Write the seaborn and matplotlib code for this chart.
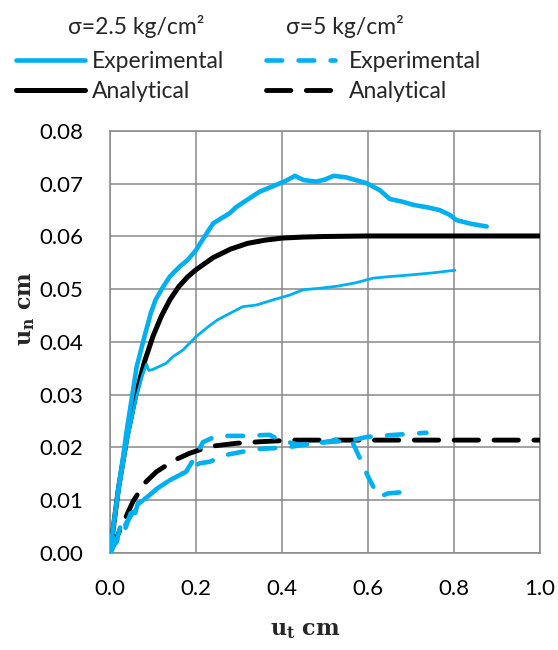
import matplotlib
matplotlib.use("Agg")
import matplotlib.pyplot as plt
import seaborn as sns
import pandas as pd

# sigma = 2.5 kg/cm2, experimental (upper test curve)
exp25a_x = [0, 0.01, 0.02, 0.03, 0.039, 0.05, 0.062, 0.069, 0.080, 0.095, 0.106, 0.12, 0.139,
            0.162, 0.18, 0.20, 0.22, 0.24, 0.26, 0.278, 0.294, 0.32, 0.348, 0.387, 0.41,
            0.43, 0.45, 0.48, 0.50, 0.52, 0.55, 0.597, 0.627, 0.651, 0.68, 0.705, 0.74,
            0.767, 0.79, 0.806, 0.84, 0.876]
exp25a_y = [0, 0.0065, 0.0125, 0.018, 0.0233, 0.029, 0.0353, 0.0375, 0.041, 0.0455, 0.048,
            0.050, 0.0524, 0.0543, 0.0555, 0.0574, 0.060, 0.0625, 0.0635, 0.0644, 0.0656,
            0.067, 0.0685, 0.0698, 0.0706, 0.0715, 0.0707, 0.0704, 0.0708, 0.0715, 0.0712,
            0.0701, 0.0688, 0.0671, 0.0666, 0.066, 0.0655, 0.065, 0.0641, 0.0631, 0.0624,
            0.0619]

# sigma = 2.5 kg/cm2, experimental (lower test curve)
exp25b_x = [0, 0.02, 0.04, 0.06, 0.075, 0.085, 0.09, 0.1, 0.131, 0.146, 0.17, 0.2, 0.23,
            0.25, 0.278, 0.309, 0.34, 0.38, 0.418, 0.449, 0.49, 0.53, 0.57, 0.612, 0.65,
            0.697, 0.75, 0.802]
exp25b_y = [0, 0.011, 0.021, 0.029, 0.0335, 0.0358, 0.0346, 0.0348, 0.036, 0.0372, 0.0385,
            0.041, 0.043, 0.0442, 0.0454, 0.0467, 0.047, 0.048, 0.0489, 0.0499, 0.0502,
            0.0506, 0.0512, 0.0521, 0.0524, 0.0527, 0.0531, 0.0536]

# sigma = 2.5 kg/cm2, analytical
ana25_x = [0, 0.02, 0.04, 0.06, 0.08, 0.10, 0.12, 0.14, 0.16, 0.18, 0.20, 0.24, 0.28, 0.32,
           0.36, 0.40, 0.45, 0.50, 0.60, 0.70, 0.80, 0.90, 1.00]
ana25_y = [0, 0.0124, 0.0222, 0.0300, 0.0362, 0.0411, 0.0450, 0.0481, 0.0505, 0.0523, 0.0537,
           0.0560, 0.0576, 0.0587, 0.0593, 0.0597, 0.0599, 0.0600, 0.0601, 0.0601, 0.0601,
           0.0601, 0.0601]

# sigma = 5 kg/cm2, experimental (test with drop)
exp5a_x = [0, 0.01, 0.015, 0.022, 0.03, 0.035, 0.045, 0.05, 0.055, 0.065, 0.069, 0.088,
           0.111, 0.139, 0.177, 0.20, 0.216, 0.248, 0.309, 0.371, 0.395, 0.441, 0.48, 0.527,
           0.55, 0.565, 0.581, 0.60, 0.616, 0.627, 0.647, 0.69]
exp5a_y = [0, 0.004, 0.002, 0.0045, 0.006, 0.0045, 0.0068, 0.008, 0.0065, 0.0095, 0.0095,
           0.0107, 0.0123, 0.0138, 0.0154, 0.0185, 0.021, 0.0222, 0.0222, 0.0224, 0.0214,
           0.0205, 0.0208, 0.0214, 0.0211, 0.0208, 0.018, 0.0145, 0.012, 0.0107, 0.0113,
           0.0116]

# sigma = 5 kg/cm2, experimental (second test)
exp5b_x = [0, 0.02, 0.04, 0.06, 0.069, 0.088, 0.111, 0.139, 0.177, 0.208, 0.232, 0.27, 0.34,
           0.41, 0.472, 0.519, 0.56, 0.597, 0.662, 0.736]
exp5b_y = [0, 0.003, 0.006, 0.0085, 0.0095, 0.0107, 0.0123, 0.0138, 0.0154, 0.017, 0.0173,
           0.0186, 0.0197, 0.020, 0.0208, 0.0211, 0.0213, 0.022, 0.0224, 0.0228]

# sigma = 5 kg/cm2, analytical
ana5_x = [0, 0.02, 0.034, 0.053, 0.08, 0.108, 0.15, 0.185, 0.232, 0.294, 0.35, 0.426, 0.5,
          0.6, 0.7, 0.8, 0.9, 1.0]
ana5_y = [0, 0.0038, 0.0063, 0.0097, 0.0132, 0.0154, 0.0176, 0.0189, 0.0202, 0.0208, 0.0211,
          0.0214, 0.0214, 0.0214, 0.0214, 0.0214, 0.0214, 0.0214]

x_ticks = [0.0, 0.2, 0.4, 0.6, 0.8, 1.0]
y_ticks = [0.00, 0.01, 0.02, 0.03, 0.04, 0.05, 0.06, 0.07, 0.08]

legend_titles = ["σ=2.5 kg/cm²", "σ=5 kg/cm²"]
legend_labels = ["Experimental", "Analytical"]

BLUE = "#00B0F0"
GRID = "#898989"

sns.set_theme(style="white")
plt.rcParams["font.family"] = ["Lato", "DejaVu Sans"]
plt.rcParams["mathtext.fontset"] = "dejavuserif"

fig = plt.figure(figsize=(5.58, 6.5), dpi=100)
ax = fig.add_axes([110 / 558, 1 - 553 / 650, 430 / 558, 422 / 650])


def draw(x, y, **kw):
    df = pd.DataFrame({"x": x, "y": y})
    sns.lineplot(data=df, x="x", y="y", ax=ax, sort=False, estimator=None, **kw)
    return ax.lines[-1]


DASH_BLUE = (0, (3.4, 3.6))
DASH_BLACK = (0, (5.0, 3.2))

h_exp25 = draw(exp25a_x, exp25a_y, color=BLUE, lw=3.3, solid_capstyle="round",
               solid_joinstyle="round", zorder=4)
draw(exp25b_x, exp25b_y, color=BLUE, lw=2.0, solid_capstyle="round",
     solid_joinstyle="round", zorder=4)
h_ana25 = draw(ana25_x, ana25_y, color="black", lw=3.6, zorder=3)
h_exp5 = draw(exp5a_x, exp5a_y, color=BLUE, lw=3.3, linestyle=DASH_BLUE,
              dash_capstyle="round", dash_joinstyle="round", zorder=4)
draw(exp5b_x, exp5b_y, color=BLUE, lw=3.3, linestyle=DASH_BLUE,
     dash_capstyle="round", dash_joinstyle="round", zorder=4)
h_ana5 = draw(ana5_x, ana5_y, color="black", lw=3.5, linestyle=DASH_BLACK,
              dash_capstyle="round", zorder=3)

ax.set_xlim(0, 1.0)
ax.set_ylim(0, 0.08)
ax.set_xticks(x_ticks)
ax.set_yticks(y_ticks)
ax.set_xticklabels([f"{v:.1f}" for v in x_ticks])
ax.set_yticklabels([f"{v:.2f}" for v in y_ticks])
ax.tick_params(axis="both", length=0, labelsize=16, colors="black")
ax.tick_params(axis="x", pad=19)
ax.tick_params(axis="y", pad=19)
ax.grid(True, color=GRID, lw=1.1)
for s in ax.spines.values():
    s.set_color(GRID)
    s.set_linewidth(1.1)

ax.set_xlabel(r"$\mathbf{u}_\mathbf{t}$ cm", fontsize=16, fontweight="bold",
              family="DejaVu Serif")
ax.set_ylabel(r"$\mathbf{u}_\mathbf{n}$ cm", fontsize=16, fontweight="bold",
              family="DejaVu Serif")
ax.xaxis.label.set_va("center")
ax.xaxis.set_label_coords((305 - 110) / 430, (553 - 630) / 422)
ax.yaxis.set_label_coords((37 - 110) / 430, (553 - 309) / 422)

# Legend: two columns, each with its own heading
fig.text(136 / 558, 1 - 27 / 650, legend_titles[0], ha="center", va="center", fontsize=16.5)
fig.text(345 / 558, 1 - 27 / 650, legend_titles[1], ha="center", va="center", fontsize=16.5)
leg1 = fig.legend([h_exp25, h_ana25], legend_labels, loc="upper left",
                  bbox_to_anchor=(16 / 558, 1 - 51 / 650), frameon=False, fontsize=16.5,
                  handlelength=3.0, handletextpad=0.3, labelspacing=0.4,
                  borderaxespad=0, borderpad=0)
leg2 = fig.legend([h_exp5, h_ana5], legend_labels, loc="upper left",
                  bbox_to_anchor=(266 / 558, 1 - 51 / 650), frameon=False, fontsize=16.5,
                  handlelength=3.0, handletextpad=0.6, labelspacing=0.4,
                  borderaxespad=0, borderpad=0)

fig.savefig("out.png", dpi=100, facecolor="white")
